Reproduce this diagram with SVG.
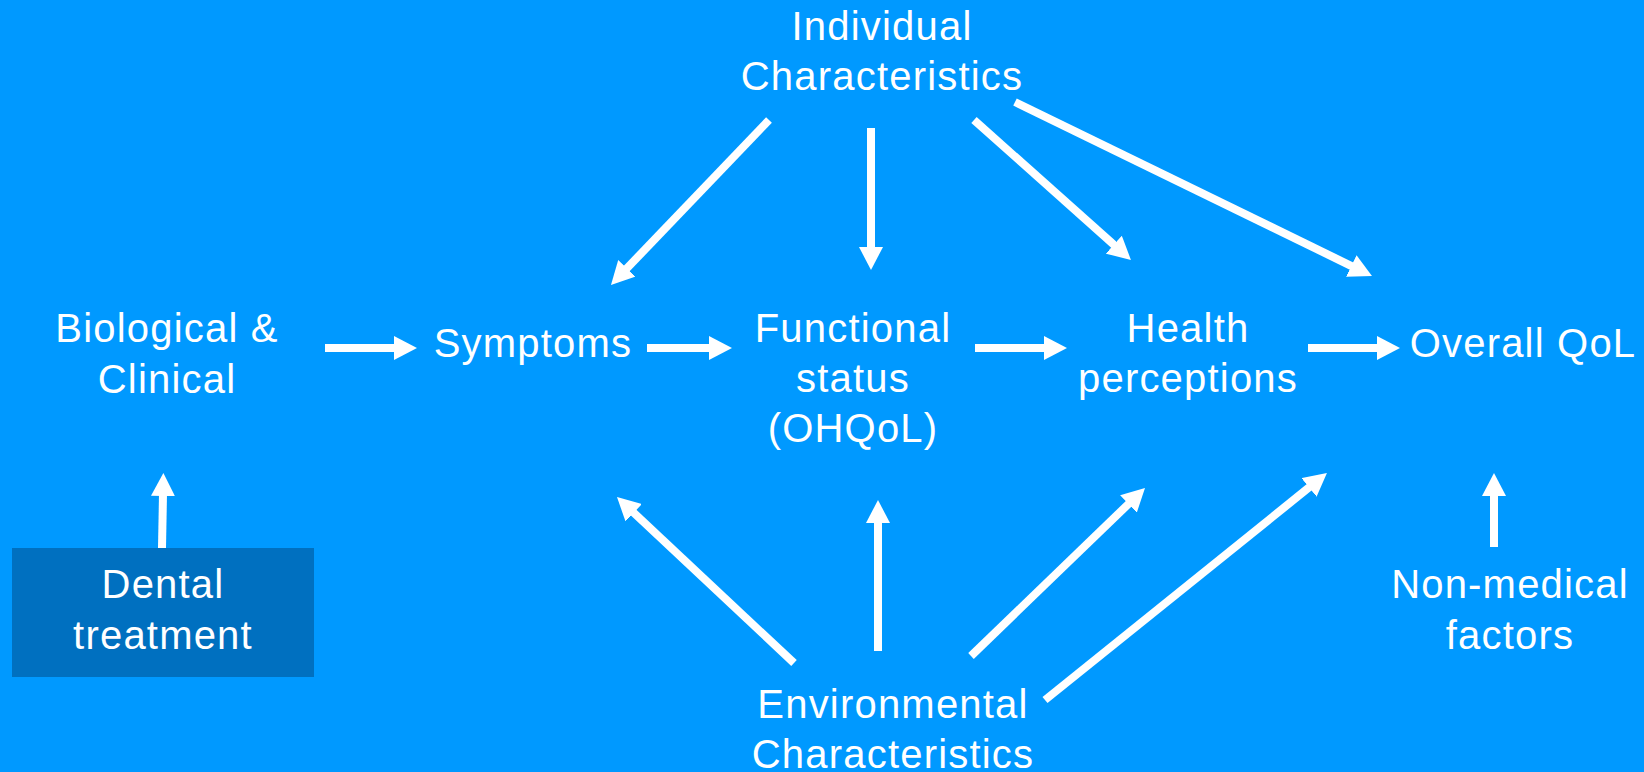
<svg xmlns="http://www.w3.org/2000/svg" width="1644" height="772" viewBox="0 0 1644 772">
<defs>
<style>
.t{font-family:"Liberation Sans",Arial,sans-serif;font-size:40px;fill:#fff;text-anchor:middle;letter-spacing:1.2px}
.c line{stroke:#fff;stroke-width:8;marker-end:url(#ah)}
</style>
<marker id="ah" viewBox="0 0 23 24" refX="2" refY="12" markerWidth="23" markerHeight="24" markerUnits="userSpaceOnUse" orient="auto">
<path d="M0,0 L23,12 L0,24 z" fill="#fff"/>
</marker>
</defs>
<rect width="1644" height="772" fill="#0099FF"/>
<g id="individual"><text class="t" x="882" y="40">Individual</text><text class="t" x="882" y="90">Characteristics</text></g>
<g id="biological"><text class="t" x="167" y="342">Biological &amp;</text><text class="t" x="167" y="393">Clinical</text></g>
<g id="symptoms"><text class="t" x="533" y="357">Symptoms</text></g>
<g id="functional"><text class="t" x="853" y="342">Functional</text><text class="t" x="853" y="392">status</text><text class="t" x="853" y="442">(OHQoL)</text></g>
<g id="health"><text class="t" x="1188" y="342">Health</text><text class="t" x="1188" y="392">perceptions</text></g>
<g id="overall"><text class="t" x="1523" y="357">Overall QoL</text></g>
<g id="dental"><rect x="12" y="548" width="302" height="129" fill="#0070C0"/><text class="t" x="163" y="598">Dental</text><text class="t" x="163" y="649">treatment</text></g>
<g id="nonmedical"><text class="t" x="1510" y="598">Non-medical</text><text class="t" x="1510" y="649">factors</text></g>
<g id="environmental"><text class="t" x="893" y="718">Environmental</text><text class="t" x="893" y="768">Characteristics</text></g>
<g id="connectors" class="c">
<line x1="325" y1="348" x2="396" y2="348"/>
<line x1="647" y1="348" x2="711" y2="348"/>
<line x1="975" y1="348" x2="1046" y2="348"/>
<line x1="1308" y1="348" x2="1379" y2="348"/>
<line x1="162" y1="548" x2="163" y2="494"/>
<line x1="1494" y1="547" x2="1494" y2="494"/>
<line x1="769" y1="120" x2="625.5" y2="269.8"/>
<line x1="871" y1="128" x2="871" y2="249"/>
<line x1="974" y1="120" x2="1115.3" y2="246"/>
<line x1="1015" y1="102" x2="1353.1" y2="266.8"/>
<line x1="794" y1="663" x2="632.3" y2="511.4"/>
<line x1="878" y1="651" x2="878" y2="521"/>
<line x1="971" y1="656" x2="1129.9" y2="502.6"/>
<line x1="1045" y1="700" x2="1310.6" y2="486.2"/>
</g>
</svg>
